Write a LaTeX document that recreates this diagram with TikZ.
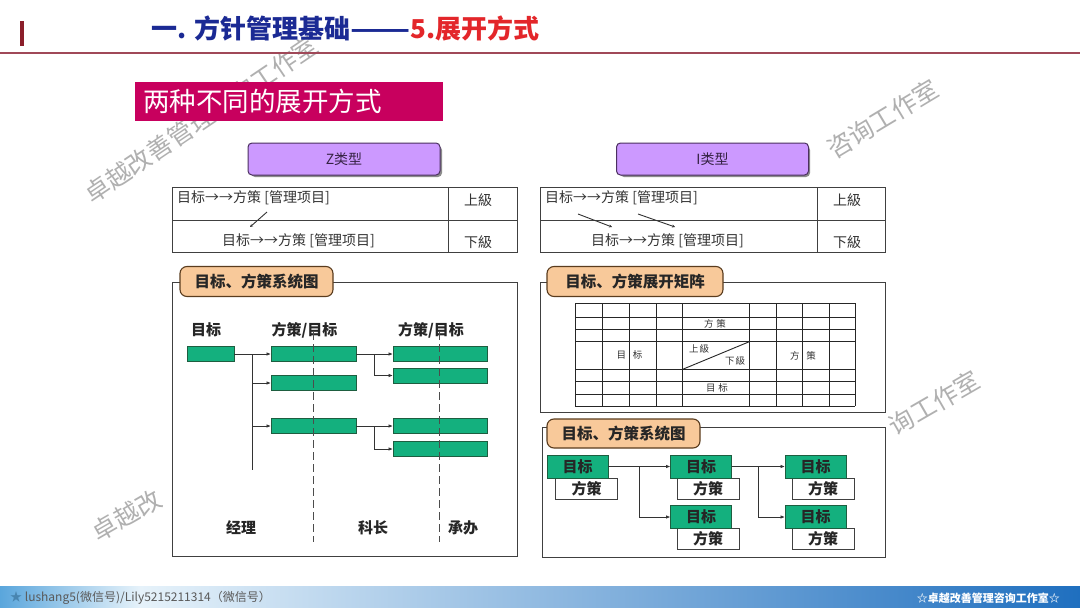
\documentclass[tikz,border=0pt]{standalone}
\usepackage{fontspec}
\setmainfont{Noto Sans CJK SC}
\usetikzlibrary{arrows.meta,calc}
\definecolor{titleblue}{HTML}{1B2A94}
\definecolor{titlered}{HTML}{E3262A}
\definecolor{barred}{HTML}{8B1E2A}
\definecolor{hline}{HTML}{A04858}
\definecolor{pinkbg}{HTML}{C8005E}
\definecolor{violetfill}{HTML}{CC99FF}
\definecolor{violetedge}{HTML}{4B3060}
\definecolor{tabfill}{HTML}{F8C99A}
\definecolor{tabedge}{HTML}{5A3C1E}
\definecolor{gfill}{HTML}{14B07E}
\definecolor{gedge}{HTML}{1E5E40}
\definecolor{txt}{HTML}{333333}
\definecolor{wm}{HTML}{B0B0B0}
\definecolor{footL}{HTML}{5AA6DC}
\definecolor{footM}{HTML}{E6F2FA}
\definecolor{footR}{HTML}{1F6FBF}
\begin{document}
\begin{tikzpicture}[x=1pt,y=-1pt,
  wmark/.style={text=wm, font=\fontsize{25}{25}\selectfont, inner sep=0pt},
  typebox/.style={draw=violetedge, line width=1pt, fill=violetfill, rounded corners=4pt, minimum width=192pt, minimum height=32pt, font=\fontsize{14}{14}\selectfont, text=violetedge!70!black},
  tabbox/.style={draw=tabedge, line width=1.1pt, fill=tabfill, rounded corners=7pt, minimum height=30pt, font=\fontsize{15.5}{16}\bfseries\selectfont, text=black!85},
  ttext/.style={font=\fontsize{14}{14}\selectfont, text=txt, inner sep=0pt},
  gbox/.style={draw=gedge, line width=0.9pt, fill=gfill, minimum height=15pt, inner sep=0pt},
  lab/.style={font=\fontsize{15}{15}\bfseries\selectfont, text=black!85, inner sep=0pt},
  gnode/.style={draw=gedge, line width=0.9pt, fill=gfill, minimum width=61pt, minimum height=23pt, inner sep=0pt, font=\fontsize{15}{15}\bfseries\selectfont, text=black!85},
  wnode/.style={draw=black!75, line width=0.9pt, fill=white, minimum width=62pt, minimum height=21pt, inner sep=0pt, font=\fontsize{15}{15}\bfseries\selectfont, text=black!85},
  arr/.style={-{Triangle[length=4pt,width=3pt]}, line width=0.8pt, draw=black!80},
  mtext/.style={font=\fontsize{9.5}{9.5}\selectfont, text=black!80, inner sep=0pt},
  frame/.style={draw=black!75, line width=1pt}
]
\useasboundingbox (0,0) rectangle (1080,608);
\fill[white] (0,0) rectangle (1080,608);

% watermarks
\node[wmark, anchor=west, rotate=34] (wm1) at (87,197) {卓越改善管理咨询工作室};
\node[wmark, anchor=west, rotate=31] (wm2) at (829,151) {咨询工作室};
\node[wmark, anchor=west, rotate=30] (wm3) at (94,534) {卓越改};
\node[wmark, anchor=west, rotate=30] (wm4) at (891,428) {询工作室};

% header
\fill[barred] (20,21) rectangle (24,46);
\node[anchor=west, inner sep=0pt, font=\fontsize{26}{26}\bfseries\selectfont] (title) at (151,29)
  {\textcolor{titleblue}{一. 方针管理基础\scalebox{1.35}[1]{——}}\textcolor{titlered}{5.展开方式}};
\draw[hline, line width=1.3pt] (0,53) -- (1080,53);

% subtitle
\node[fill=pinkbg, anchor=north west, minimum width=308pt, minimum height=39pt, text width=292pt,
  inner xsep=8pt, align=left, text=white, font=\fontsize{26.5}{26.5}\selectfont] (sub) at (135,82) {两种不同的展开方式};

% type boxes
\fill[black!45, rounded corners=4pt] (251,146) rectangle (442,177);
\node[typebox] (ztype) at (344,159) {Z类型};
\fill[black!45, rounded corners=4pt] (620,146) rectangle (810,177);
\node[typebox] (itype) at (712.5,159) {I类型};

% Z table
\draw[frame, fill=white] (172,187) rectangle (517,252);
\draw[frame] (172,220) -- (517,220);
\draw[frame] (448,187) -- (448,252);
\node[ttext, anchor=west] (zt1) at (177,198) {目标→→方策 [管理项目]};
\node[ttext] (zu) at (478,200) {上級};
\node[ttext, anchor=west] (zt2) at (222,241) {目标→→方策 [管理项目]};
\node[ttext] (zd) at (478,242) {下級};
\coordinate (za1) at (267,212);
\coordinate (za2) at (250,227);
\draw[-{Stealth[length=3pt,width=3pt]}, line width=0.9pt, black!80] (za1) -- (za2);

% I table
\draw[frame, fill=white] (540,187) rectangle (885,252);
\draw[frame] (540,220) -- (885,220);
\draw[frame] (817,187) -- (817,252);
\node[ttext, anchor=west] (it1) at (545,198) {目标→→方策 [管理项目]};
\node[ttext] (iu) at (847,200) {上級};
\node[ttext, anchor=west] (it2) at (591,241) {目标→→方策 [管理项目]};
\node[ttext] (id) at (847,242) {下級};
\coordinate (ia1) at (578,214);
\coordinate (ia2) at (612,227);
\coordinate (ib1) at (638,214);
\coordinate (ib2) at (675,227);
\draw[-{Stealth[length=3pt,width=3pt]}, line width=0.9pt, black!80] (ia1) -- (ia2);
\draw[-{Stealth[length=3pt,width=3pt]}, line width=0.9pt, black!80] (ib1) -- (ib2);

% left system chart
\draw[frame, fill=white] (172,282) rectangle (517,556);
\node[tabbox, minimum width=153pt] (tab1) at (256.5,281.5) {目标、方策系统图};
\node[lab] (l0) at (206,330) {目标};
\node[lab] (l1) at (304.5,330) {方策/目标};
\node[lab] (l2) at (431,330) {方策/目标};
\node[gbox, minimum width=47pt] (g0) at (210.5,354) {};
\node[gbox, minimum width=85pt] (a1) at (313.5,354) {};
\node[gbox, minimum width=85pt] (a2) at (313.5,383) {};
\node[gbox, minimum width=85pt] (a3) at (313.5,426) {};
\node[gbox, minimum width=94pt] (b1) at (440,354) {};
\node[gbox, minimum width=94pt] (b2) at (440,375.5) {};
\node[gbox, minimum width=94pt] (b3) at (440,426) {};
\node[gbox, minimum width=94pt] (b4) at (440,449) {};
\coordinate (t1) at ($(g0.east)!0.5!(a1.west)$);
\coordinate (t1end) at ($(t1)+(0,116)$);
\draw[line width=0.9pt, black!80] (t1) -- (t1end);
\draw[arr] (g0.east) -- (a1.west);
\draw[arr] (t1 |- a2.west) -- (a2.west);
\draw[arr] (t1 |- a3.west) -- (a3.west);
\coordinate (t2) at ($(a1.east)!0.5!(b1.west)$);
\coordinate (t3) at ($(a3.east)!0.5!(b3.west)$);
\draw[arr] (a1.east) -- (b1.west);
\draw[arr] (t2) |- (b2.west);
\draw[arr] (a3.east) -- (b3.west);
\draw[arr] (t3) |- (b4.west);
\coordinate (d1a) at (313,332);
\coordinate (d1b) at (313,542);
\coordinate (d2a) at (439,332);
\coordinate (d2b) at (439,542);
\draw[black!70, line width=0.9pt, dash pattern=on 8pt off 4pt] (d1a) -- (d1b);
\draw[black!70, line width=0.9pt, dash pattern=on 8pt off 4pt] (d2a) -- (d2b);
\node[lab] (p1) at (241,528) {经理};
\node[lab] (p2) at (373,528) {科长};
\node[lab] (p3) at (463,528) {承办};

% matrix
\draw[frame, fill=white] (540,282) rectangle (885,412);
\node[tabbox, minimum width=176pt] (tab2) at (635,281.5) {目标、方策展开矩阵};
\foreach \c in {575,602.7,629.3,656,682.7,749.3,776,802.7,829.3,855}
  \draw[black!85, line width=0.9pt] (\c,303.3) -- (\c,406);
\foreach \r in {303.3,317.7,329.3,341.7,369.3,381.7,394.3,406}
  \draw[black!85, line width=0.9pt] (575,\r) -- (855,\r);
\draw[black!85, line width=0.9pt] (682.7,369.3) -- (749.3,341.7);
\node[mtext] (m1) at (715,324) {方\hspace{3pt}策};
\node[mtext] (m2) at (629.5,355) {目\hspace{7pt}标};
\node[mtext] (m3) at (803,356) {方\hspace{7pt}策};
\node[mtext] (m4) at (699,349) {上\hspace{1pt}級};
\node[mtext] (m5) at (735,361) {下\hspace{1pt}級};
\node[mtext] (m6) at (717,388) {目\hspace{3pt}标};

% right system chart
\draw[frame, fill=white] (542,427) rectangle (885,557);
\node[tabbox, minimum width=153pt, minimum height=29pt] (tab3) at (623.5,433.5) {目标、方策系统图};
\node[wnode] (f1) at (586.5,488.5) {方策};
\node[gnode] (n1) at (577.5,466.5) {目标};
\node[wnode] (f2) at (708,488.5) {方策};
\node[gnode] (n2) at (701,466.5) {目标};
\node[wnode] (f3) at (823,488.5) {方策};
\node[gnode] (n3) at (815.5,466.5) {目标};
\node[wnode] (f4) at (708,539) {方策};
\node[gnode] (n4) at (701,517) {目标};
\node[wnode] (f5) at (823,539) {方策};
\node[gnode] (n5) at (815.5,517) {目标};
\coordinate (j1) at ($(n1.east)!0.5!(n2.west)$);
\coordinate (j2) at ($(n2.east)!0.5!(n3.west)$);
\draw[arr] (n1.east) -- (n2.west);
\draw[arr] (j1) |- (n4.west);
\draw[arr] (n2.east) -- (n3.west);
\draw[arr] (j2) |- (n5.west);

% footer
\shade[left color=footL, right color=footM] (0,586) rectangle (140,608);
\shade[left color=footM, right color=footR] (140,586) rectangle (1080,608);
\node[anchor=west, inner sep=0pt, font=\fontsize{12}{12}\selectfont, text=black!65] (fl) at (10,598)
  {\textcolor{footL!80!black}{★} lushang5(微信号)/Lily5215211314（微信号）};
\node[anchor=east, inner sep=0pt, font=\fontsize{11}{11}\bfseries\selectfont, text=white] (fr) at (1060,598)
  {☆卓越改善管理咨询工作室☆};
\end{tikzpicture}
\end{document}
